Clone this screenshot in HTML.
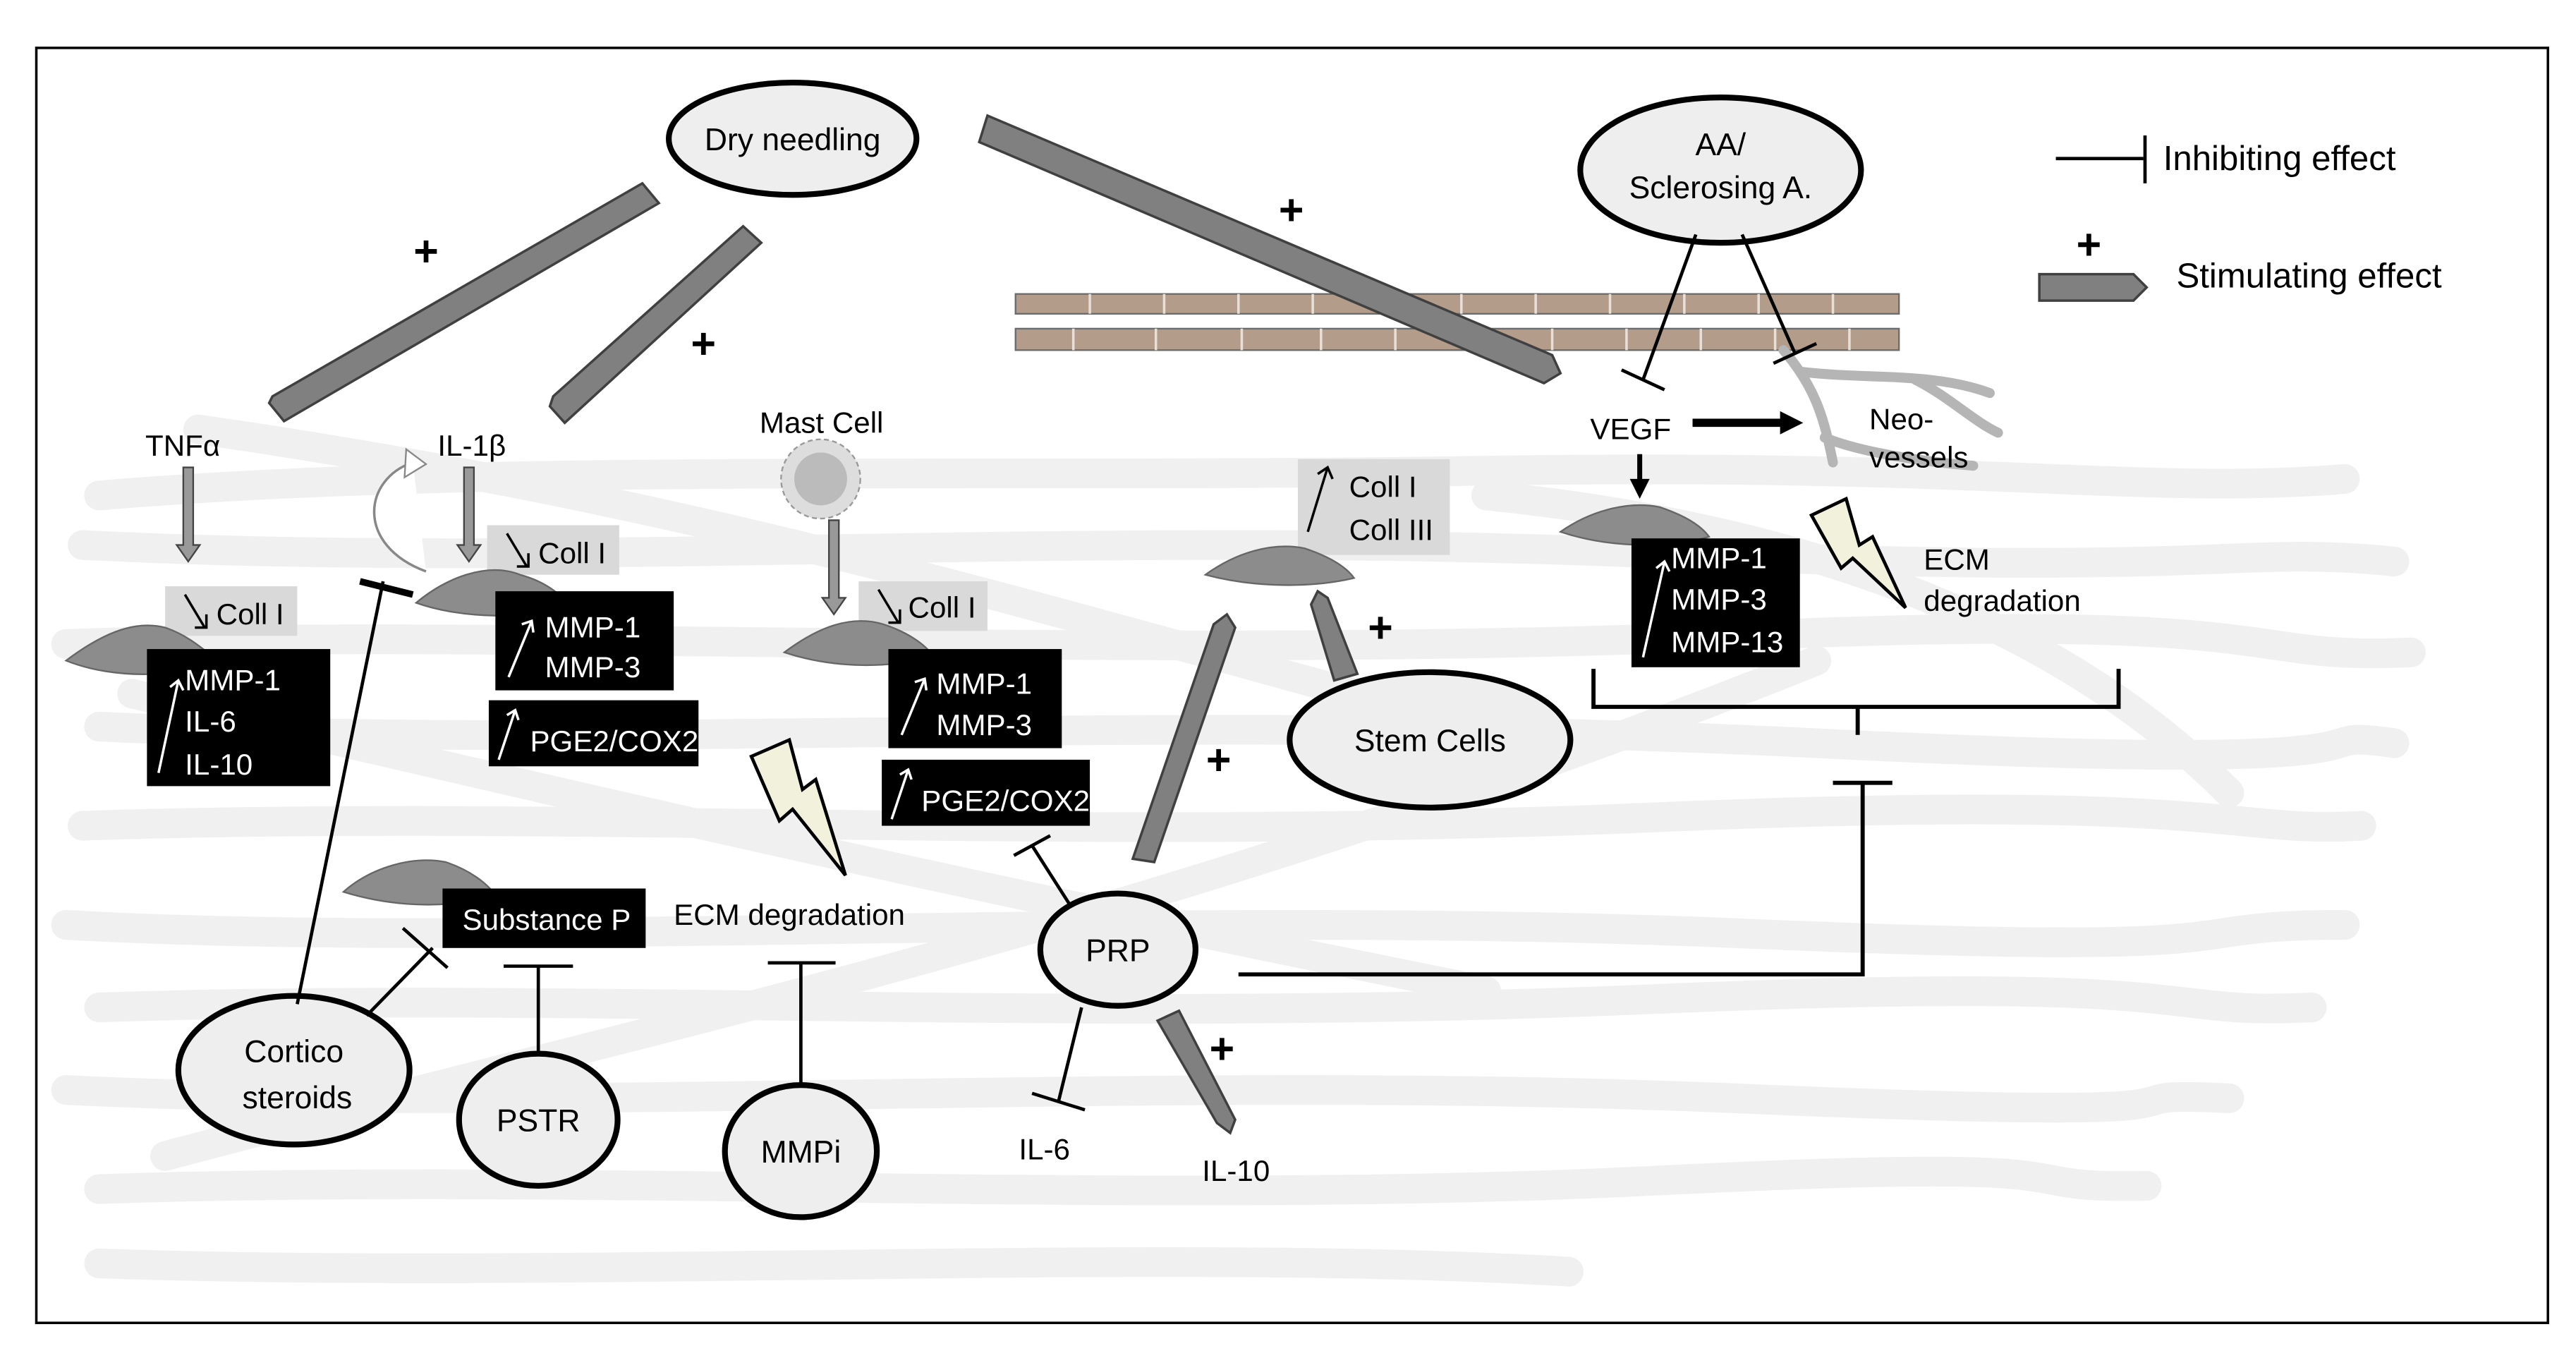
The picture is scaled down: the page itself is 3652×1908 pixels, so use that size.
<!DOCTYPE html>
<html><head><meta charset="utf-8"><style>
html,body{margin:0;padding:0;background:#fff;}
svg{display:block;}
text{font-family:"Liberation Sans",sans-serif;}
</style></head><body>
<svg width="3652" height="1908" viewBox="0 0 1560 815" preserveAspectRatio="none" xmlns="http://www.w3.org/2000/svg">
<rect x="0" y="0" width="1560" height="815" fill="#fff"/>
<rect x="22" y="29" width="1521" height="772" fill="#fff" stroke="#000" stroke-width="1.5"/>
<!-- background scribbles -->
<g stroke="#f0f0f0" stroke-width="18" fill="none" stroke-linecap="round">
<path d="M60 300 C300 280 600 290 900 285 S1300 300 1420 290"/>
<path d="M50 330 C350 345 650 320 1000 335 S1350 330 1450 340"/>
<path d="M40 390 C300 380 700 400 1050 385 S1350 400 1460 395"/>
<path d="M60 440 C400 455 700 430 1100 450 S1380 440 1450 450"/>
<path d="M50 500 C350 490 650 510 1000 495 S1350 505 1430 500"/>
<path d="M40 560 C300 575 700 550 1050 565 S1300 560 1420 560"/>
<path d="M60 610 C350 600 650 620 1000 605 S1300 615 1400 610"/>
<path d="M40 660 C350 675 700 650 1050 665 S1250 660 1350 665"/>
<path d="M60 720 C350 710 700 730 1000 715 S1200 720 1300 718"/>
<path d="M60 765 C350 775 700 755 950 770"/>
<path d="M80 420 C300 470 500 520 900 600"/>
<path d="M100 700 C400 620 700 560 1100 400"/>
<path d="M900 300 C1100 320 1250 380 1350 480"/>
<path d="M120 260 C400 300 600 360 820 420"/>
</g>
<!-- muscle bands -->
<g fill="#b39d8a" stroke="#6b6b6b" stroke-width="1">
<rect x="615" y="178" width="535" height="12"/>
<rect x="615" y="199" width="535" height="13"/>
</g>
<g stroke="#e8e0d8" stroke-width="1.5">
<path d="M660 178v12M705 178v12M750 178v12M795 178v12M840 178v12M885 178v12M930 178v12M975 178v12M1020 178v12M1065 178v12M1110 178v12"/>
<path d="M650 199v13M700 199v13M752 199v13M800 199v13M845 199v13M890 199v13M940 199v13M985 199v13M1030 199v13M1075 199v13M1120 199v13"/>
</g>
<!-- neo vessels -->
<g stroke="#b5b5b5" stroke-width="6" fill="none" stroke-linecap="round">
<path d="M1080 212 C1100 235 1105 255 1110 280"/>
<path d="M1090 225 C1130 230 1170 225 1205 238"/>
<path d="M1160 230 C1180 240 1195 255 1210 262"/>
<path d="M1105 265 C1130 275 1170 280 1195 282"/>
</g>
<!-- stimulating arrows -->
<g fill="#808080" stroke="#404040" stroke-width="1.5">
<polygon points="389,111 399,123 172,255 163,244 165,240"/>
<polygon points="450,137 461,147 342,256 333,246 335,240"/>
<polygon points="598,70 593,86 935,232 945,226 940,215"/>
<polygon points="686,520 699,522 748,380 743,372 735,378"/>
<polygon points="808,412 822,408 804,362 798,358 794,366"/>
<polygon points="701,618 714,612 748,678 745,686 737,680"/>
<polygon points="1235,166 1292,166 1300,174 1292,182 1235,182"/>
</g>
<g font-size="26" font-weight="bold" fill="#000" text-anchor="middle">
<text x="258" y="161">+</text><text x="426" y="217">+</text><text x="782" y="136">+</text>
<text x="738" y="469">+</text><text x="836" y="389">+</text><text x="740" y="644">+</text>
<text x="1265" y="157">+</text>
</g>
<!-- legend -->
<g stroke="#000" stroke-width="2"><line x1="1245" y1="96" x2="1298" y2="96"/><line x1="1299" y1="82" x2="1299" y2="111"/></g>
<text x="1310" y="103" font-size="21">Inhibiting effect</text>
<text x="1318" y="174" font-size="21">Stimulating effect</text>
<!-- ellipses -->
<g fill="#eeeeee" stroke="#000" stroke-width="3.5">
<ellipse cx="480" cy="84" rx="75" ry="34"/>
<ellipse cx="1042" cy="103" rx="85" ry="44"/>
<ellipse cx="866" cy="448" rx="85" ry="41"/>
<ellipse cx="677" cy="575" rx="47" ry="34"/>
<ellipse cx="178" cy="648" rx="70" ry="45"/>
<ellipse cx="326" cy="678" rx="48" ry="40"/>
<ellipse cx="485" cy="697" rx="46" ry="40"/>
</g>
<g font-size="19" text-anchor="middle" fill="#000">
<text x="480" y="91">Dry needling</text>
<text x="1042" y="94">AA/</text><text x="1042" y="120">Sclerosing A.</text>
<text x="866" y="455">Stem Cells</text>
<text x="677" y="582">PRP</text>
<text x="178" y="643">Cortico</text><text x="180" y="671">steroids</text>
<text x="326" y="685">PSTR</text>
<text x="485" y="704">MMPi</text>
</g>
<!-- inhibition lines -->
<g stroke="#000" stroke-width="2" fill="none">
<line x1="1027" y1="142" x2="995" y2="230"/><line x1="982" y1="224" x2="1008" y2="236"/>
<line x1="1055" y1="142" x2="1087" y2="214"/><line x1="1074" y1="220" x2="1100" y2="208"/>
<line x1="180" y1="608" x2="232" y2="352"/>
<line x1="222" y1="615" x2="262" y2="574"/><line x1="244" y1="562" x2="271" y2="586"/>
<line x1="326" y1="638" x2="326" y2="585"/><line x1="305" y1="585" x2="347" y2="585"/>
<line x1="485" y1="657" x2="485" y2="583"/><line x1="465" y1="583" x2="506" y2="583"/>
<line x1="648" y1="548" x2="625" y2="512"/><line x1="614" y1="518" x2="636" y2="506"/>
<line x1="655" y1="610" x2="641" y2="667"/><line x1="625" y1="662" x2="657" y2="672"/>
</g>
<g stroke="#000" stroke-width="2.5" fill="none">
<line x1="218" y1="352" x2="250" y2="360" stroke-width="4"/>
<path d="M750 590 H1128 V474"/><line x1="1110" y1="474" x2="1146" y2="474"/>
<path d="M965 405 V428 H1283 V405"/><line x1="1125" y1="428" x2="1125" y2="445"/>
</g>
<!-- small labels -->
<g font-size="18" fill="#000">
<text x="88" y="276">TNFα</text><text x="265" y="276">IL-1β</text><text x="460" y="262">Mast Cell</text>
<text x="963" y="266">VEGF</text><text x="1132" y="260">Neo-</text><text x="1132" y="283">vessels</text>
<text x="1165" y="345">ECM</text><text x="1165" y="370">degradation</text>
<text x="408" y="560">ECM degradation</text>
<text x="617" y="702">IL-6</text><text x="728" y="715">IL-10</text>
</g>
<!-- down gray arrows -->
<g fill="#999" stroke="#444" stroke-width="1">
<polygon points="111,283 117,283 117,330 121,330 114,340 107,330 111,330"/>
<polygon points="281,283 287,283 287,330 291,330 284,340 277,330 281,330"/>
<polygon points="502,315 508,315 508,362 512,362 505,372 498,362 502,362"/>
</g>
<path d="M258 346 C215 330 220 290 250 280" stroke="#888" stroke-width="1.5" fill="#fff"/>
<polygon points="246,272 258,281 245,289" fill="#fff" stroke="#888"/>
<!-- VEGF arrows -->
<line x1="1025" y1="256" x2="1080" y2="256" stroke="#000" stroke-width="5"/>
<polygon points="1078,249 1092,256 1078,263" fill="#000"/>
<line x1="993" y1="275" x2="993" y2="292" stroke="#000" stroke-width="3"/>
<polygon points="987,290 993,302 999,290" fill="#000"/>
<!-- mast cell -->
<circle cx="497" cy="290" r="24" fill="#ddd" stroke="#999" stroke-dasharray="3,2"/>
<circle cx="497" cy="290" r="16" fill="#bbb"/>
<!-- light boxes -->
<g fill="#d9d9d9">
<rect x="100" y="355" width="80" height="30"/><rect x="295" y="318" width="80" height="30"/>
<rect x="520" y="352" width="78" height="30"/><rect x="786" y="278" width="92" height="58"/>
</g>
<g font-size="18" fill="#000">
<text x="131" y="378">Coll I</text><text x="326" y="341">Coll I</text><text x="550" y="374">Coll I</text>
<text x="817" y="301">Coll I</text><text x="817" y="327">Coll III</text>
</g>
<g stroke="#000" stroke-width="1.5" fill="none">
<path d="M112 360 L124 380 M118 380 H125 V372"/>
<path d="M307 323 L319 343 M313 343 H320 V335"/>
<path d="M532 357 L544 377 M538 377 H545 V369"/>
<path d="M792 322 L804 283 M798 287 L804 283 L807 290"/>
</g>
<!-- cells -->
<g fill="#8c8c8c" stroke="#666" stroke-width="1">
<path d="M40 400 C60 385 80 375 100 380 C115 385 125 395 132 400 C110 410 70 412 40 400Z"/>
<path d="M252 365 C270 350 295 340 315 348 C330 352 340 360 345 367 C320 375 280 375 252 365Z"/>
<path d="M475 395 C495 380 515 372 535 378 C550 383 560 390 565 397 C540 405 505 405 475 395Z"/>
<path d="M208 540 C225 525 250 518 270 522 C285 527 295 535 300 542 C275 550 240 550 208 540Z"/>
<path d="M730 348 C748 335 770 328 790 332 C805 337 815 343 820 350 C795 356 760 356 730 348Z"/>
<path d="M945 322 C962 310 985 303 1005 307 C1020 312 1030 318 1035 325 C1010 332 975 332 945 322Z"/>
</g>
<!-- black boxes -->
<g fill="#000">
<rect x="89" y="393" width="111" height="83"/><rect x="300" y="358" width="108" height="60"/>
<rect x="296" y="424" width="127" height="40"/><rect x="538" y="393" width="105" height="60"/>
<rect x="534" y="460" width="126" height="40"/><rect x="268" y="538" width="123" height="36"/>
<rect x="988" y="326" width="102" height="78"/>
</g>
<g font-size="18" fill="#fff">
<text x="112" y="418">MMP-1</text><text x="112" y="443">IL-6</text><text x="112" y="469">IL-10</text>
<text x="330" y="386">MMP-1</text><text x="330" y="410">MMP-3</text>
<text x="321" y="455">PGE2/COX2</text>
<text x="567" y="420">MMP-1</text><text x="567" y="445">MMP-3</text>
<text x="558" y="491">PGE2/COX2</text>
<text x="280" y="563">Substance P</text>
<text x="1012" y="344">MMP-1</text><text x="1012" y="369">MMP-3</text><text x="1012" y="395">MMP-13</text>
</g>
<g stroke="#fff" stroke-width="1.5" fill="none">
<path d="M96 468 L108 412 M103 416 L108 412 L111 418"/>
<path d="M308 410 L322 376 M316 378 L322 376 L323 383"/>
<path d="M546 445 L560 411 M554 413 L560 411 L561 418"/>
<path d="M302 460 L312 430 M307 433 L312 430 L314 436"/>
<path d="M540 496 L550 466 M545 469 L550 466 L552 472"/>
<path d="M995 398 L1008 340 M1003 344 L1008 340 L1011 346"/>
</g>
<!-- lightning -->
<g fill="#f2f2dc" stroke="#000" stroke-width="2">
<polygon points="455,458 478,448 486,478 494,472 512,530 480,490 472,497"/>
<polygon points="1097,312 1118,302 1126,330 1134,325 1154,368 1122,338 1115,344"/>
</g>
</svg>
</body></html>
